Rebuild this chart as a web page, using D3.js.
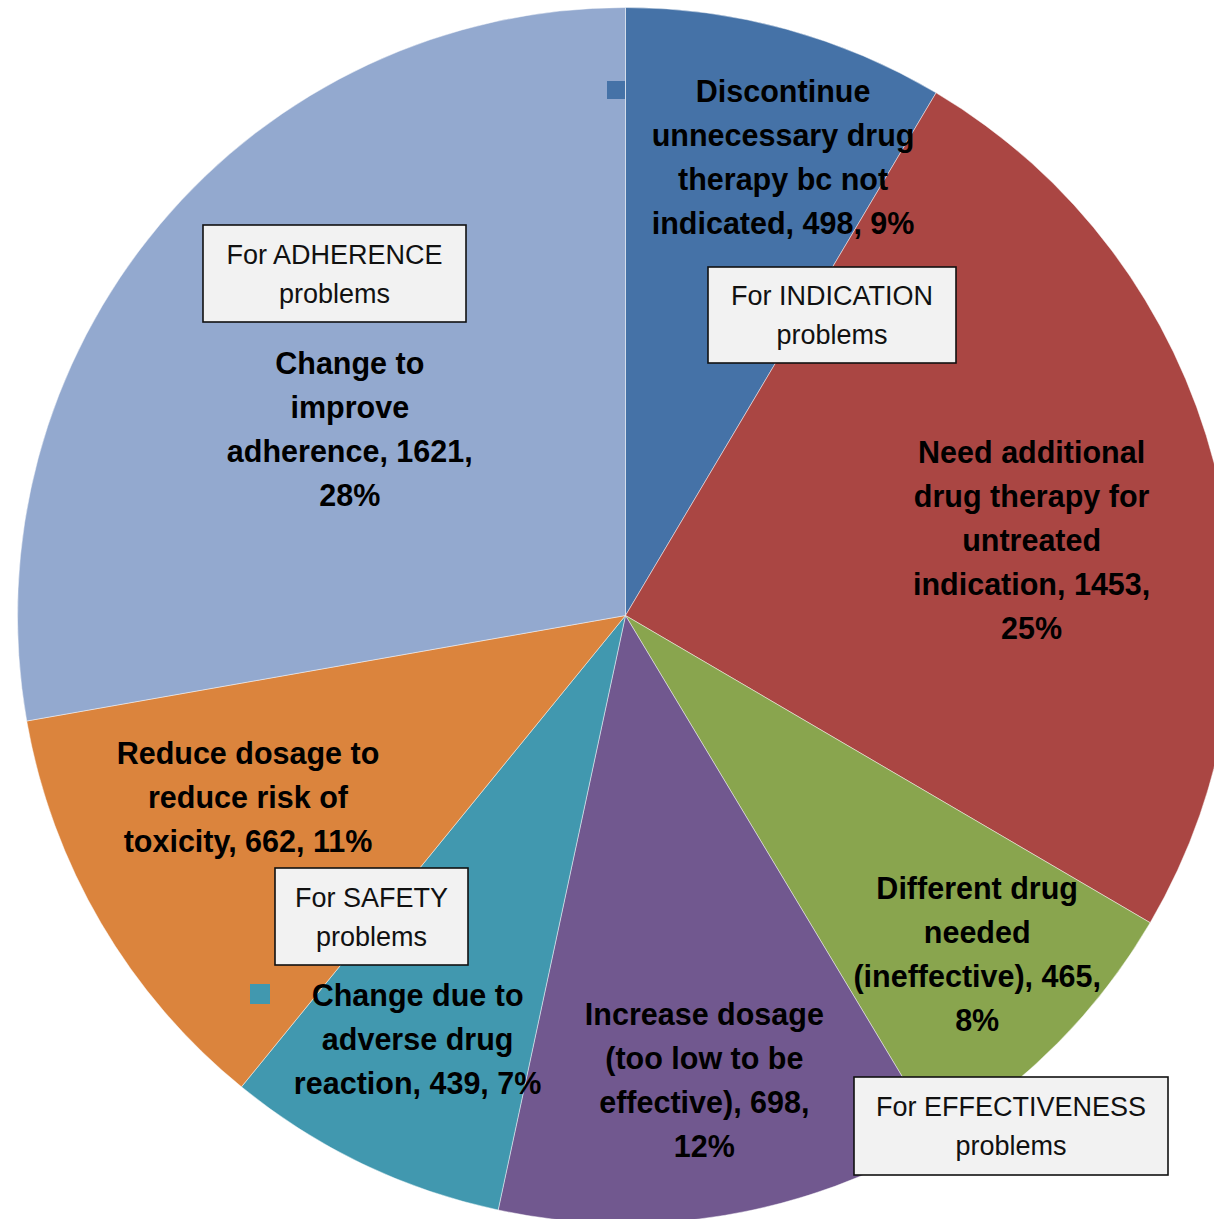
<!DOCTYPE html>
<html>
<head>
<meta charset="utf-8">
<script src="https://cdn.jsdelivr.net/npm/d3@7"></script>
<style>
  html, body { margin: 0; padding: 0; background: #fff; overflow: hidden; }
  svg { display: block; }
</style>
</head>
<body>
<script>
// Interventions by drug-therapy problem type
const categories = [
  "Discontinue unnecessary drug therapy bc not indicated",
  "Need additional drug therapy for untreated indication",
  "Different drug needed (ineffective)",
  "Increase dosage (too low to be effective)",
  "Change due to adverse drug reaction",
  "Reduce dosage to reduce risk of toxicity",
  "Change to improve adherence"
];
const counts = [498, 1453, 465, 698, 439, 662, 1621];
const percentLabels = ["9%", "25%", "8%", "12%", "7%", "11%", "28%"];

// Label text split into lines as drawn on each slice
const labelLines = [
  ["Discontinue", "unnecessary drug", "therapy bc not", "indicated, 498, 9%"],
  ["Need additional", "drug therapy for", "untreated", "indication, 1453,", "25%"],
  ["Different drug", "needed", "(ineffective), 465,", "8%"],
  ["Increase dosage", "(too low to be", "effective), 698,", "12%"],
  ["Change due to", "adverse drug", "reaction, 439, 7%"],
  ["Reduce dosage to", "reduce risk of", "toxicity, 662, 11%"],
  ["Change to", "improve", "adherence, 1621,", "28%"]
];

// Problem-group annotation boxes
const groupTitles = ["For ADHERENCE", "For INDICATION", "For SAFETY", "For EFFECTIVENESS"];

const colors = ["#4572A7", "#AA4643", "#89A54E", "#71588F", "#4198AF", "#DB843D", "#93A9CF"];

const W = 1214, H = 1219;
const cx = 625.5, cy = 615.5, R = 608;

const svg = d3.select("body").append("svg")
  .attr("width", W).attr("height", H);

const g = svg.append("g").attr("transform", `translate(${cx},${cy})`);

const pie = d3.pie().sort(null).value(d => d)(counts);
const arc = d3.arc().innerRadius(0).outerRadius(R);

g.selectAll("path.slice")
  .data(pie)
  .join("path")
  .attr("class", "slice")
  .attr("d", arc)
  .attr("fill", (d, i) => colors[i])
  .attr("stroke", "rgba(255,255,255,0.45)")
  .attr("stroke-width", 1);

// Label placement: angular nudge (deg) from slice middle and distance from centre
const labelPlace = [
  { dAng: 3.6, r: 485 },
  { dAng: 4.0, r: 413 },
  { dAng: -0.8, r: 488 },
  { dAng: -0.2, r: 471 },
  { dAng: 0.5, r: 472 },
  { dAng: 4.7, r: 419 },
  { dAng: -5.9, r: 333 }
];
const lineH = 44;
const labelFont = "'Liberation Sans', Arial, sans-serif";

const labels = g.selectAll("g.label")
  .data(pie)
  .join("g")
  .attr("class", "label")
  .attr("transform", (d, i) => {
    const a = (d.startAngle + d.endAngle) / 2 + labelPlace[i].dAng * Math.PI / 180;
    const r = labelPlace[i].r;
    return `translate(${r * Math.sin(a)},${-r * Math.cos(a)})`;
  });

labels.each(function(d, i) {
  const lines = labelLines[i];
  const n = lines.length;
  d3.select(this).selectAll("text")
    .data(lines)
    .join("text")
    .attr("x", 0)
    .attr("y", (t, k) => (k - (n - 1) / 2) * lineH)
    .attr("dy", "0.36em")
    .attr("text-anchor", "middle")
    .attr("font-family", labelFont)
    .attr("font-weight", "bold")
    .attr("font-size", 30.5)
    .attr("fill", "#000")
    .text(t => t);
});

// Small series keys left inside two of the labels
const keySize = [18, 20];
const keys = [
  { slice: 0, x: 607 - cx, y: 81 - cy, s: keySize[0] },
  { slice: 4, x: 250 - cx, y: 984 - cy, s: keySize[1] }
];
g.selectAll("rect.key")
  .data(keys)
  .join("rect")
  .attr("class", "key")
  .attr("x", d => d.x).attr("y", d => d.y)
  .attr("width", d => d.s).attr("height", d => d.s)
  .attr("fill", d => colors[d.slice]);

// Annotation boxes
const boxes = [
  { x: 203, y: 225, w: 263, h: 97 },
  { x: 708, y: 267, w: 248, h: 96 },
  { x: 275, y: 868, w: 193, h: 97 },
  { x: 854, y: 1077, w: 314, h: 98 }
];
const boxG = svg.selectAll("g.box")
  .data(boxes)
  .join("g")
  .attr("class", "box");

boxG.append("rect")
  .attr("x", d => d.x).attr("y", d => d.y)
  .attr("width", d => d.w).attr("height", d => d.h)
  .attr("fill", "#F2F2F2")
  .attr("stroke", "#111")
  .attr("stroke-width", 1.6);

boxG.each(function(d, i) {
  const sel = d3.select(this);
  const mid = d.x + d.w / 2;
  [groupTitles[i], "problems"].forEach((t, k) => {
    sel.append("text")
      .attr("x", mid)
      .attr("y", d.y + d.h / 2 + (k - 0.5) * 39)
      .attr("dy", "0.36em")
      .attr("text-anchor", "middle")
      .attr("font-family", labelFont)
      .attr("font-size", 27)
      .attr("fill", "#111")
      .text(t);
  });
});
</script>
</body>
</html>
